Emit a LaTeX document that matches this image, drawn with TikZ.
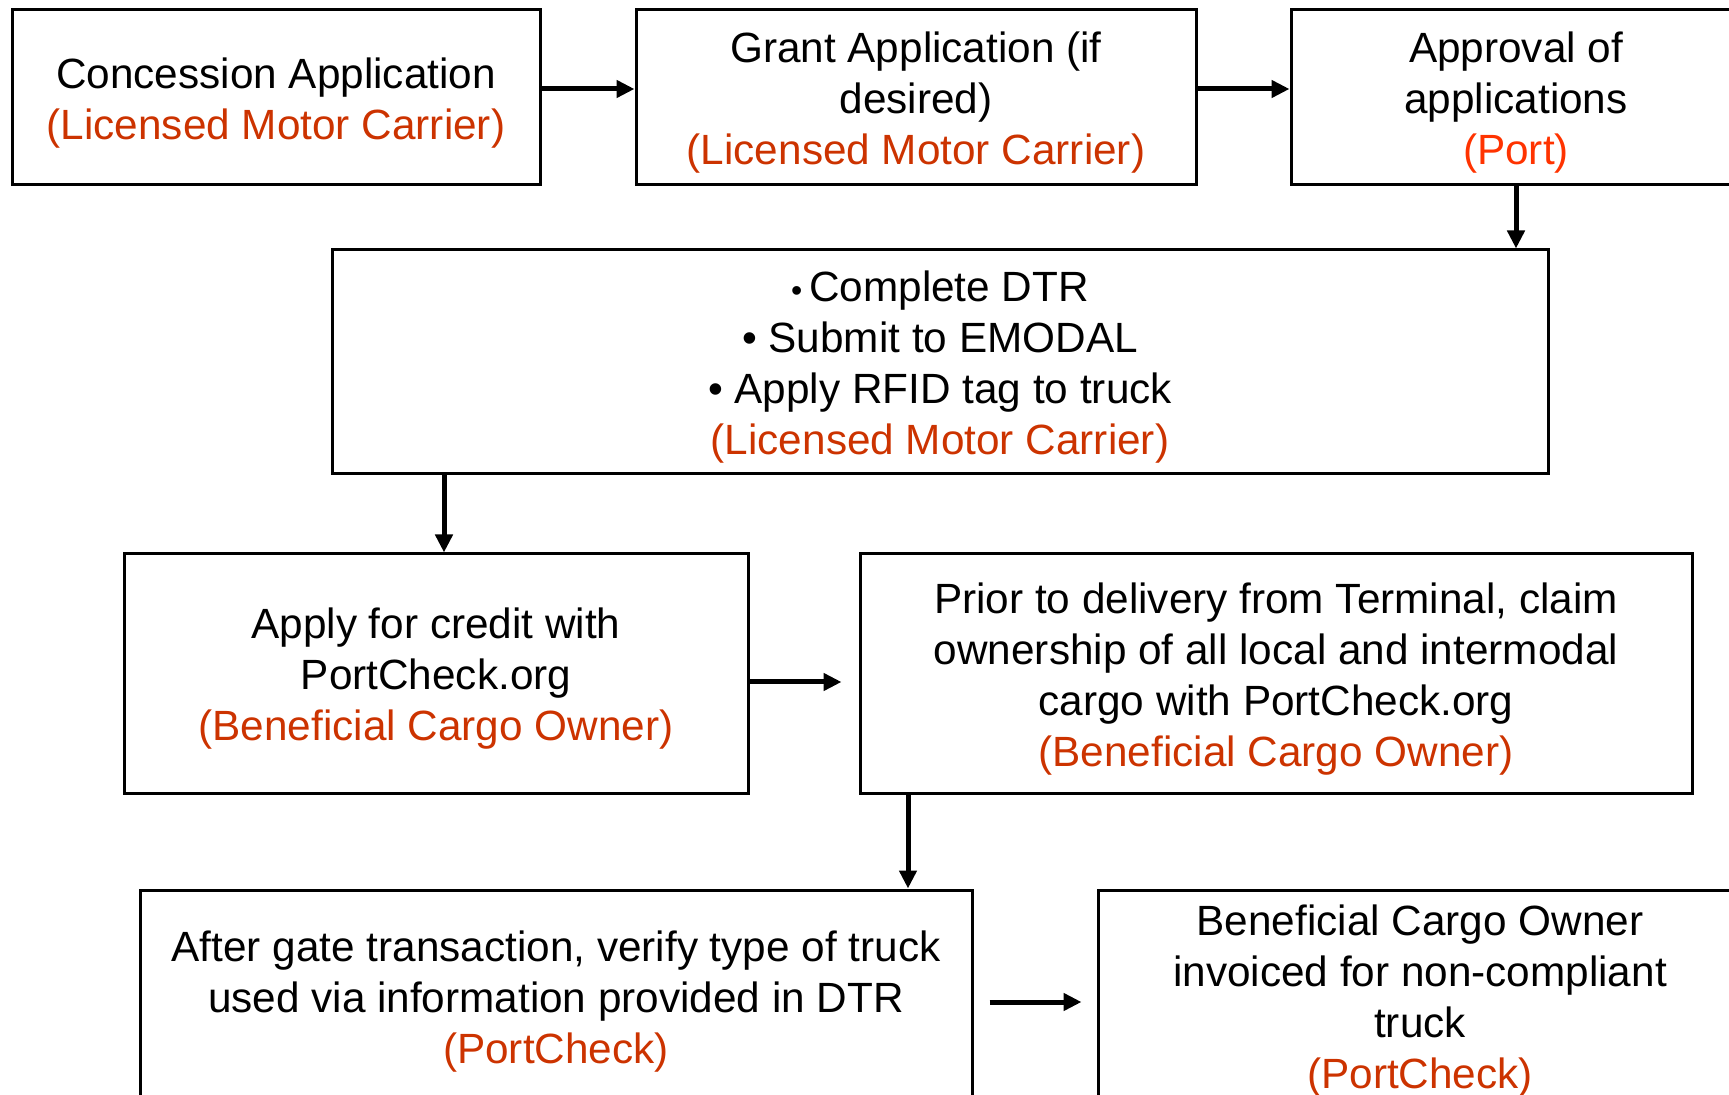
\documentclass[tikz,border=0pt]{standalone}
\usepackage{fontspec}
\setmainfont{Liberation Sans}
\usetikzlibrary{arrows.meta}
\definecolor{ora}{RGB}{204,51,0}
\definecolor{portred}{RGB}{255,51,0}
\begin{document}
\begin{tikzpicture}[x=0.5pt,y=-0.5pt,
  box/.style={draw, line width=1.5pt, inner sep=0pt, anchor=center},
  txt/.style={inner sep=0pt, align=center, font=\fontsize{21.15}{25.5}\selectfont},
  arr/.style={line width=2.5pt, -{Triangle[length=9pt,width=8.5pt]}}]
\clip (0,0) rectangle (1729,1095);
\useasboundingbox (0,0) rectangle (1729,1095);

\node[box, minimum width=264pt, minimum height=87.5pt] (b1) at (276,97.5) {};
\node[txt] (t1) at ([yshift=-2.75pt]b1.center)
  {Concession Application\\\textcolor{ora}{(Licensed Motor Carrier)}};
\node[box, minimum width=280pt, minimum height=87.5pt] (b2) at (916,97.5) {};
\node[txt] (t2) at ([yshift=-2.75pt]b2.center)
  {Grant Application (if\\desired)\\\textcolor{ora}{(Licensed Motor Carrier)}};
\node[box, minimum width=225pt, minimum height=87.5pt] (b3) at (1516,97.5) {};
\node[txt] (t3) at ([yshift=-2.75pt]b3.center)
  {Approval of\\applications\\\textcolor{portred}{(Port)}};
\node[box, minimum width=608pt, minimum height=112pt] (b4) at (940,362) {};
\node[txt] (t4) at ([yshift=-2.75pt]b4.center)
  {{\fontsize{16}{16}\selectfont•}\,Complete DTR\\• Submit to EMODAL\\• Apply RFID tag to truck\\\textcolor{ora}{(Licensed Motor Carrier)}};
\node[box, minimum width=312pt, minimum height=119.5pt] (b5) at (436,673.5) {};
\node[txt] (t5) at ([yshift=-2.75pt]b5.center)
  {Apply for credit with\\PortCheck.org\\\textcolor{ora}{(Beneficial Cargo Owner)}};
\node[box, minimum width=416pt, minimum height=119.5pt] (b6) at (1276,673.5) {};
\node[txt] (t6) at ([yshift=-2.75pt]b6.center)
  {Prior to delivery from Terminal, claim\\ownership of all local and intermodal\\cargo with PortCheck.org\\\textcolor{ora}{(Beneficial Cargo Owner)}};
\node[box, minimum width=416pt, minimum height=106pt] (b7) at (556,996) {};
\node[txt] (t7) at ([yshift=-2.75pt]b7.center)
  {After gate transaction, verify type of truck\\used via information provided in DTR\\\textcolor{ora}{(PortCheck)}};
\node[box, minimum width=322pt, minimum height=106pt] (b8) at (1420,996) {};
\node[txt] (t8) at ([yshift=-2.75pt]b8.center)
  {Beneficial Cargo Owner\\invoiced for non-compliant\\truck\\\textcolor{ora}{(PortCheck)}};

\draw[arr] (b1.east |- 0,89) -- (b2.west |- 0,89);
\draw[arr] (b2.east |- 0,89) -- (b3.west |- 0,89);
\draw[arr] (b3.south) -- (b3.south |- b4.north);
\draw[arr] (b4.south -| 444,0) -- (b5.north -| 444,0);
\draw[arr, shorten >=8.5pt] (b5.east |- 0,682) -- (b6.west |- 0,682);
\draw[arr] (b6.south -| 908,0) -- (b7.north -| 908,0);
\draw[arr, shorten <=8pt, shorten >=7.5pt] (b7.east |- 0,1002) -- (b8.west |- 0,1002);
\end{tikzpicture}
\end{document}
